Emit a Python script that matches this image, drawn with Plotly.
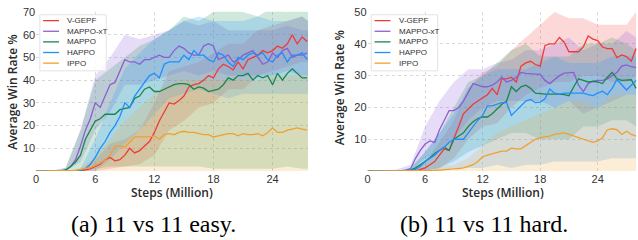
import numpy as np
import plotly.graph_objects as go

W, H = 638, 240

names = ["V-GEPF", "MAPPO-xT", "MAPPO", "HAPPO", "IPPO"]
line_colors = ["#f03a3a", "#8b5fd3", "#17884a", "#1e8fff", "#f0a033"]
band_colors = ["rgba(245,90,90,0.24)", "rgba(150,110,220,0.24)", "rgba(40,150,90,0.22)",
               "rgba(40,150,255,0.22)", "rgba(235,175,70,0.22)"]

# ---------------- Panel (a): 11 vs 11 easy ----------------
steps_a = np.arange(0, 28, 0.5)
easy_vgepf = [0]*10 + [0.5, 1, 2, 3, 5, 6, 4.5, 5, 7, 10, 8, 9, 11, 13, 17, 22, 26, 30, 29.5, 31,
                       33, 37, 38, 38.5, 40, 42, 41, 45, 47, 46, 44.5, 48, 45, 49, 50, 51, 53, 52,
                       53, 55, 54, 56, 60, 56, 59, 57]
easy_mappoxt = [0]*6 + [0.5, 2, 5, 11, 18, 23, 30, 28, 33, 38, 39, 44, 49, 48, 48, 47, 49, 49, 50,
                        51, 50, 50, 53, 55, 54, 52, 51, 51, 55, 56, 55, 49, 50, 51, 48, 49, 51, 52,
                        53, 50, 47, 48, 52, 50, 53, 54, 50, 51, 51, 52]
easy_mappo = [0]*6 + [0.5, 2, 4, 7, 14, 18, 22, 23, 25, 25, 25, 27, 27.5, 28, 32, 33, 36, 37, 35,
                      35, 36, 37, 38, 38.5, 38.5, 38, 36, 37, 36.5, 35, 35.5, 36, 38, 41, 40, 42,
                      42, 43, 40, 42, 41, 42, 38, 43, 40, 43, 45, 43, 41, 41]
easy_happo = [0]*9 + [0.3, 1, 3, 6, 10, 13, 17, 20, 24, 30, 28, 33, 36, 39, 42, 43, 41, 47, 48, 48,
                      48, 51, 49, 53, 51, 51, 49, 48, 52, 51, 48, 46, 50, 49, 51, 52, 51, 52, 49,
                      48, 51, 52, 48, 51, 51, 52, 49]
easy_ippo = [0]*8 + [0.3, 0.7, 1, 1.5, 2.5, 3.5, 5, 7, 11, 11, 10.5, 13, 15, 15, 15, 15, 15.5, 14,
                     16, 16.5, 16, 17, 17.5, 17, 17, 16.5, 16, 16, 15, 15.5, 16, 16.5, 16.5, 15.5,
                     16.5, 16, 16, 16.5, 15.5, 17, 19, 17, 17, 18, 18.5, 19, 18.5, 18]

band_steps_a = [0, 1.5, 3, 4.5, 6, 7.5, 9, 10.5, 12, 13.5, 15, 16.5, 18, 19.5, 21, 22.5, 24, 25.5, 27, 27.6]
easy_lo = [
    [0, 0, 0, 0, 0, 1, 2, 3, 7, 18, 22, 28, 30, 36, 36, 42, 44, 46, 48, 48],
    [0, 0, 0, 4, 18, 26, 38, 38, 40, 42, 44, 42, 44, 42, 42, 42, 42, 44, 42, 42],
    [0, 0, 0, 0, 1, 2, 2, 2, 2, 2, 2, 2, 1, 1, 1, 1, 1, 2, 1, 1],
    [0, 0, 0, 0, 0, 5, 12, 18, 25, 32, 34, 36, 34, 32, 34, 34, 34, 34, 34, 34],
    [0]*20,
]
easy_hi = [
    [0, 0, 0, 0.5, 5, 12, 14, 18, 30, 44, 46, 48, 52, 56, 56, 62, 64, 66, 68, 66],
    [0, 0, 1.5, 18, 42, 50, 60, 58, 60, 62, 66, 64, 66, 62, 62, 62, 62, 64, 62, 62],
    [0, 0, 1.5, 18, 40, 45, 50, 55, 58, 62, 68, 66, 70, 72, 70, 68, 72, 70, 72, 70],
    [0, 0, 0, 1, 14, 30, 45, 52, 58, 62, 66, 68, 66, 66, 66, 68, 66, 66, 68, 66],
    [0, 0, 0, 1.5, 6, 14, 22, 28, 34, 38, 40, 40, 40, 40, 40, 40, 42, 42, 42, 42],
]

# ---------------- Panel (b): 11 vs 11 hard ----------------
steps_b = np.arange(0, 28.5, 0.5)
hard_vgepf = [0]*11 + [0.5, 1, 2, 3, 5, 7, 6.5, 10, 14, 18, 19.5, 21, 22, 23, 24, 26, 24, 29, 29,
                       29.5, 28, 33, 34, 34.5, 33.5, 33, 39.5, 40, 40, 42, 40.5, 37.5, 37.5, 37.5,
                       39, 42.5, 41.5, 41, 39, 38.5, 38.5, 35.7, 36.5, 36, 34.5, 38.5]
hard_mappoxt = [0]*8 + [0.3, 0.8, 4, 6.5, 8.5, 9.5, 9, 13, 16, 19, 19, 20, 22, 25, 27.5, 27, 26.5,
                        26.5, 27, 28, 29.5, 28, 28.5, 29.5, 31, 30.7, 30.5, 30.5, 30.4, 28.5, 27.5,
                        28.7, 30, 30.8, 31, 31, 27, 25, 27.5, 28.3, 28.5, 28.5, 29, 30, 31, 33,
                        33.4, 32.8, 32.5]
hard_mappo = [0]*9 + [0.3, 1, 2, 3, 4.2, 5.5, 6.5, 7.5, 6.5, 10, 11, 12, 14, 15.5, 16.5, 17, 17, 18,
                      19.5, 21, 22, 26.5, 25, 26.5, 27, 26, 24.5, 24.3, 24.2, 24.2, 24.3, 24.2, 24,
                      23.7, 26.5, 29, 28.5, 28, 28.2, 28, 27.5, 29.5, 31, 29, 28.5, 28.5, 28.7, 26]
hard_happo = [0]*9 + [0.2, 0.5, 1.5, 3, 4, 5, 6.5, 7.5, 9, 10, 10, 10, 12, 14, 16, 17.5, 20.5, 20.5,
                      21, 21.5, 21.5, 17.5, 19, 20.5, 22, 22.5, 21.5, 21.7, 22.7, 25.8, 24.5, 24.2,
                      24.5, 24.5, 24.5, 24.5, 24.5, 24, 23.7, 24.5, 25.1, 24, 26, 28.8, 27, 25.5,
                      27, 28.5]
hard_ippo = [0]*14 + [0.2, 0.3, 0.5, 0.6, 0.7, 0.8, 1, 1.5, 2, 3, 4.5, 5, 5.5, 6, 6.3, 6.3, 7.2, 7,
                      7, 8, 9, 10, 10.5, 10.7, 11, 11.5, 11.8, 12, 11.5, 11, 10.5, 10, 9.5, 9, 9.5,
                      10.5, 13, 13.3, 13, 11.5, 12.5, 11.5, 11]

band_steps_b = [0, 1.5, 3, 4.5, 6, 7.5, 9, 10.5, 12, 13.5, 15, 16.5, 18, 19.5, 21, 22.5, 24, 25.5, 27, 28]
hard_lo = [
    [0, 0, 0, 0, 0, 1, 4, 10, 14, 15, 20, 24, 26, 28, 28, 30, 30, 28, 28, 30],
    [0, 0, 0, 0, 4, 6, 10, 16, 20, 22, 22, 22, 22, 20, 22, 18, 20, 22, 24, 24],
    [0, 0, 0, 0, 0, 1, 3, 6, 8, 10, 12, 12, 10, 10, 10, 14, 14, 16, 16, 14],
    [0, 0, 0, 0, 0, 0, 1, 1, 1, 2, 1, 2, 2, 3, 3, 3, 3, 4, 4, 4],
    [0]*20,
]
hard_hi = [
    [0, 0, 0, 0.5, 3, 9, 16, 26, 31, 33, 38, 42, 46, 50, 48, 48, 46, 46, 46, 50],
    [0, 0, 0.5, 2, 14, 22, 28, 32, 32, 34, 35, 38, 38, 40, 42, 38, 40, 40, 44, 42],
    [0, 0, 0, 1, 6, 12, 20, 28, 30, 34, 38, 40, 36, 36, 36, 40, 40, 42, 40, 38],
    [0, 0, 0, 1, 6, 12, 18, 26, 30, 32, 32, 32, 34, 36, 34, 34, 34, 36, 36, 36],
    [0, 0, 0, 0, 0.5, 1.5, 2, 4, 8, 12, 14, 16, 18, 20, 22, 22, 20, 24, 24, 24],
]

x_ticks = [0, 6, 12, 18, 24]
y_ticks_a = [10, 20, 30, 40, 50, 60, 70]
y_ticks_b = [10, 20, 30, 40, 50]
caption_a = "(a) 11 vs 11 easy."
caption_b = "(b) 11 vs 11 hard."

fig = go.Figure()

panels = [
    ("x", "y", steps_a, [easy_vgepf, easy_mappoxt, easy_mappo, easy_happo, easy_ippo],
     band_steps_a, easy_lo, easy_hi),
    ("x2", "y2", steps_b, [hard_vgepf, hard_mappoxt, hard_mappo, hard_happo, hard_ippo],
     band_steps_b, hard_lo, hard_hi),
]
for xa, ya, steps, means, bsteps, los, his in panels:
    for i in range(5):
        bx = list(bsteps) + list(bsteps)[::-1]
        by = list(his[i]) + list(los[i])[::-1]
        fig.add_trace(go.Scatter(x=bx, y=by, fill="toself", fillcolor=band_colors[i],
                                 line=dict(width=0), mode="lines", hoverinfo="skip",
                                 showlegend=False, xaxis=xa, yaxis=ya))
    for i in range(5):
        fig.add_trace(go.Scatter(x=steps, y=means[i], mode="lines",
                                 line=dict(color=line_colors[i], width=1.3),
                                 name=names[i], showlegend=False, xaxis=xa, yaxis=ya))

def px(x):
    return x / W

def py(y):
    return 1 - y / H

top, bottom = 6, 169.3
axl = (33.3, 306.5)
axr = (366.3, 638)

grid = dict(showgrid=True, gridcolor="#d8d8d8", griddash="dot", gridwidth=1,
            zeroline=False, showline=False, ticks="",
            tickfont=dict(family="Liberation Sans", size=11, color="#333"))

fig.update_layout(
    width=W, height=H, margin=dict(l=0, r=0, t=0, b=0),
    paper_bgcolor="white", plot_bgcolor="white",
    xaxis=dict(domain=[px(axl[0]), px(axl[1])], range=[0, 27.6], tickvals=x_ticks, anchor="y", **grid),
    yaxis=dict(domain=[py(bottom), py(top)], range=[0, 70.05], tickvals=y_ticks_a, anchor="x", **grid),
    xaxis2=dict(domain=[px(axr[0]), px(axr[1])], range=[0, 28.2], tickvals=x_ticks, anchor="y2", **grid),
    yaxis2=dict(domain=[py(bottom), py(top)], range=[0, 50.05], tickvals=y_ticks_b, anchor="x2", **grid),
)

title_font = dict(family="Open Sans", size=12, color="#2a2a2a", weight=600)
ann = []
for ax, cap, capx, ytx, yty in [(axl, caption_a, 151.5, 10, 88), (axr, caption_b, 483, 338, 84)]:
    ann.append(dict(x=px((ax[0] + ax[1]) / 2), y=py(191), xref="paper", yref="paper",
                    text="Steps (Million)", showarrow=False, font=title_font,
                    xanchor="center", yanchor="middle"))
    ann.append(dict(x=px(ytx), y=py(yty), xref="paper", yref="paper",
                    text="Average Win Rate %", showarrow=False, font=title_font, textangle=-90,
                    xanchor="center", yanchor="middle"))
    ann.append(dict(x=px(capx), y=py(224), xref="paper", yref="paper", text=cap,
                    showarrow=False,
                    font=dict(family="Liberation Serif, Times New Roman, serif", size=24, color="black"),
                    xanchor="center", yanchor="middle"))

shapes = []
for x0 in (axl[0], axr[0]):
    bx0 = x0 + 3.7
    shapes.append(dict(type="rect", xref="paper", yref="paper",
                       x0=px(bx0), x1=px(bx0 + 66.7), y0=py(66.5), y1=py(9),
                       line=dict(color="#e3e3e3", width=1), fillcolor="rgba(255,255,255,0.85)",
                       layer="above"))
    for i in range(5):
        yy = 15 + i * 10.9
        shapes.append(dict(type="line", xref="paper", yref="paper",
                           x0=px(bx0 + 3.3), x1=px(bx0 + 19.3), y0=py(yy), y1=py(yy),
                           line=dict(color=line_colors[i], width=1.3), layer="above"))
        ann.append(dict(x=px(bx0 + 25.4), y=py(yy), xref="paper", yref="paper", text=names[i],
                        showarrow=False, font=dict(family="Liberation Sans", size=8, color="#333"),
                        xanchor="left", yanchor="middle"))

fig.update_layout(annotations=ann, shapes=shapes)
fig.write_html("out.html", config={"displayModeBar": False},
               post_script="document.body.style.margin='0';document.body.style.padding='0';")
